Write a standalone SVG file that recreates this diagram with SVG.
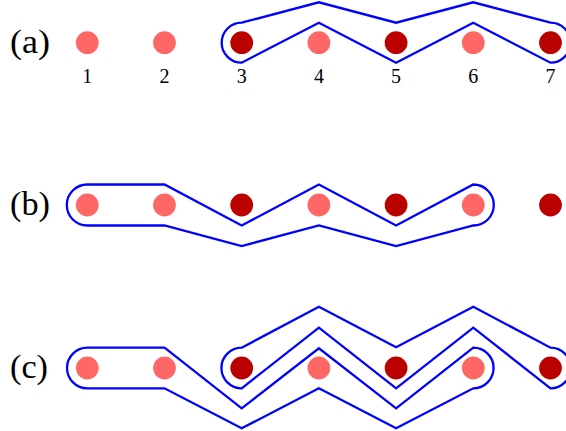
<svg xmlns="http://www.w3.org/2000/svg" width="566" height="431" viewBox="0 0 566 431">
<style>
.lt{fill:#FF6666}
.dk{fill:#BB0000}
.ol{fill:none;stroke:#0000FF;stroke-width:2.3;stroke-linejoin:miter}
.lab{font-family:"Liberation Serif","DejaVu Serif",serif;font-size:33px;fill:#000}
.num{font-family:"Liberation Serif","DejaVu Serif",serif;font-size:20px;fill:#000;text-anchor:middle}
</style>
<rect width="566" height="431" fill="#fff"/>
<g id="labels">
<text class="lab" x="10" y="52.5" textLength="40" lengthAdjust="spacingAndGlyphs">(a)</text>
<text class="lab" x="10" y="215" textLength="40" lengthAdjust="spacingAndGlyphs">(b)</text>
<text class="lab" x="10" y="378" textLength="38" lengthAdjust="spacingAndGlyphs">(c)</text>
<text class="num" x="87.3" y="83">1</text>
<text class="num" x="164.5" y="83">2</text>
<text class="num" x="241.7" y="83">3</text>
<text class="num" x="318.9" y="83">4</text>
<text class="num" x="396.1" y="83">5</text>
<text class="num" x="473.3" y="83">6</text>
<text class="num" x="550.5" y="83">7</text>
</g>
<g id="connectors">
<path class="ol" d="M241.7,22.7 L318.9,2.3 L396.1,22.7 L473.3,2.3 L550.5,22.7 A20,20 0 0 1 550.5,62.7 L473.3,22.7 L396.1,62.7 L318.9,22.7 L241.7,62.7 A20,20 0 0 1 241.7,22.7 Z"/>
<path class="ol" d="M87.3,184.5 L164.5,184.5 L241.7,225.5 L318.9,184.5 L396.1,225.5 L473.3,184.5 A20.5,20.5 0 0 1 473.3,225.5 L396.1,246 L318.9,225.5 L241.7,246 L164.5,225.5 L87.3,225.5 A20.5,20.5 0 0 1 87.3,184.5 Z"/>
<path class="ol" d="M87.3,347.7 L164.5,347.7 L241.7,408.3 L318.9,348.3 L396.1,408.3 L473.3,347.7 A20.3,20.3 0 0 1 473.3,388.3 L396.1,428.3 L318.9,388.3 L241.7,428.3 L164.5,388.3 L87.3,388.3 A20.3,20.3 0 0 1 87.3,347.7 Z"/>
<path class="ol" d="M241.7,347.7 L318.9,306.7 L396.1,347.3 L473.3,306.7 L550.5,347.7 A20.3,20.3 0 0 1 550.5,388.3 L473.3,327.7 L396.1,388.3 L318.9,327.7 L241.7,388.3 A20.3,20.3 0 0 1 241.7,347.7 Z"/>
</g>
<g id="a1"><circle class="lt" cx="87.3" cy="42.7" r="11.4"/></g>
<g id="a2"><circle class="lt" cx="164.5" cy="42.7" r="11.4"/></g>
<g id="a3"><circle class="dk" cx="241.7" cy="42.7" r="11.4"/></g>
<g id="a4"><circle class="lt" cx="318.9" cy="42.7" r="11.4"/></g>
<g id="a5"><circle class="dk" cx="396.1" cy="42.7" r="11.4"/></g>
<g id="a6"><circle class="lt" cx="473.3" cy="42.7" r="11.4"/></g>
<g id="a7"><circle class="dk" cx="550.5" cy="42.7" r="11.4"/></g>
<g id="b1"><circle class="lt" cx="87.3" cy="205" r="11.4"/></g>
<g id="b2"><circle class="lt" cx="164.5" cy="205" r="11.4"/></g>
<g id="b3"><circle class="dk" cx="241.7" cy="205" r="11.4"/></g>
<g id="b4"><circle class="lt" cx="318.9" cy="205" r="11.4"/></g>
<g id="b5"><circle class="dk" cx="396.1" cy="205" r="11.4"/></g>
<g id="b6"><circle class="lt" cx="473.3" cy="205" r="11.4"/></g>
<g id="b7"><circle class="dk" cx="550.5" cy="205" r="11.4"/></g>
<g id="c1"><circle class="lt" cx="87.3" cy="368" r="11.4"/></g>
<g id="c2"><circle class="lt" cx="164.5" cy="368" r="11.4"/></g>
<g id="c3"><circle class="dk" cx="241.7" cy="368" r="11.4"/></g>
<g id="c4"><circle class="lt" cx="318.9" cy="368" r="11.4"/></g>
<g id="c5"><circle class="dk" cx="396.1" cy="368" r="11.4"/></g>
<g id="c6"><circle class="lt" cx="473.3" cy="368" r="11.4"/></g>
<g id="c7"><circle class="dk" cx="550.5" cy="368" r="11.4"/></g>
</svg>
